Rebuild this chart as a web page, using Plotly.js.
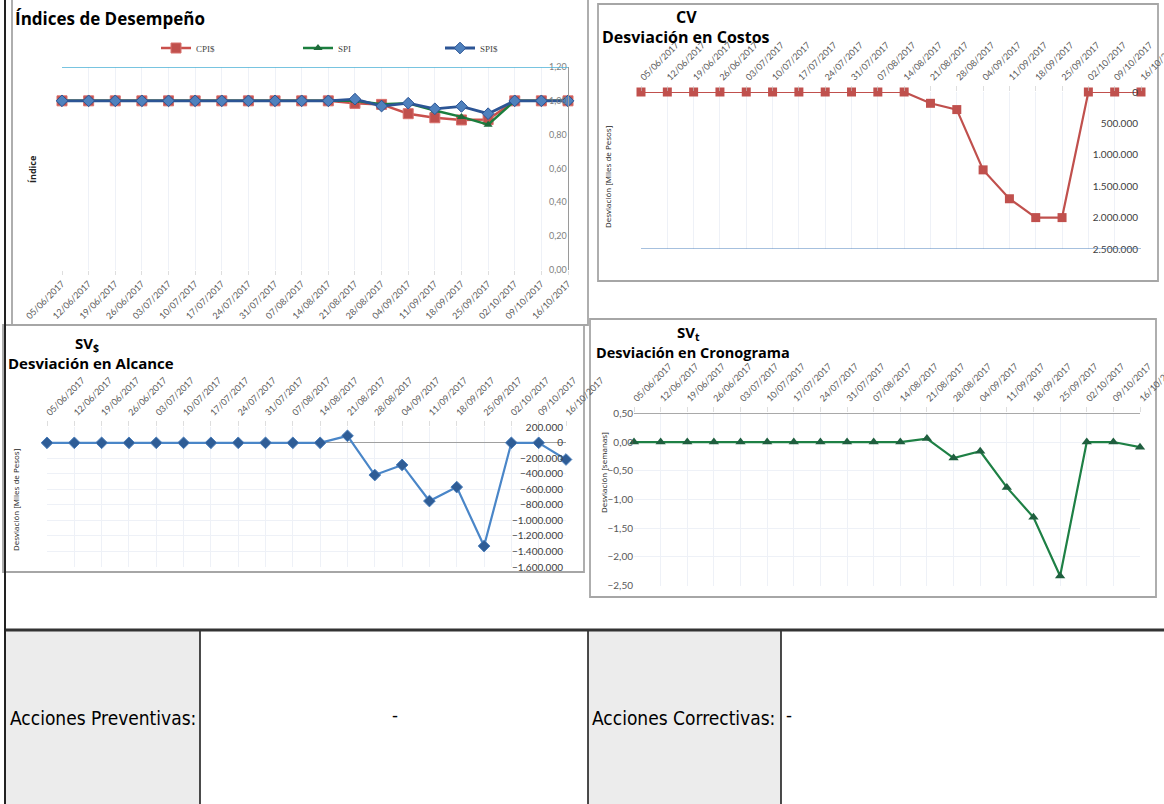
<!DOCTYPE html>
<html>
<head>
<meta charset="utf-8">
<script src="https://cdn.plot.ly/plotly-3.0.1.min.js"></script>
<style>
html,body{margin:0;padding:0;background:#fff;}
#chart{width:1164px;height:804px;}
</style>
</head>
<body>
<div id="chart"></div>
<script>
// ---------------- DATA ----------------
const dates = ['05/06/2017','12/06/2017','19/06/2017','26/06/2017','03/07/2017','10/07/2017','17/07/2017','24/07/2017','31/07/2017','07/08/2017','14/08/2017','21/08/2017','28/08/2017','04/09/2017','11/09/2017','18/09/2017','25/09/2017','02/10/2017','09/10/2017','16/10/2017'];
// Índices de Desempeño
const cpiPesos = [1,1,1,1,1,1,1,1,1,1,1,0.985,0.979,0.924,0.90,0.887,0.889,1,1,1];
const spi      = [1,1,1,1,1,1,1,1,1,1,1,1.0,0.98,0.986,0.943,0.905,0.859,1,1,1];
const spiPesos = [1,1,1,1,1,1,1,1,1,1,1,1.01,0.969,0.986,0.953,0.967,0.924,1,1,1];
// CV - Desviación en Costos (Miles de Pesos)
const cv  = [0,0,0,0,0,0,0,0,0,0,0,180000,280000,1240000,1700000,2000000,2000000,0,0,0];
// SV$ - Desviación en Alcance (Miles de Pesos)
const svPesos = [0,0,0,0,0,0,0,0,0,0,0,90000,-415000,-285000,-750000,-570000,-1330000,0,0,-215000];
// SVt - Desviación en Cronograma (semanas)
const svT = [0,0,0,0,0,0,0,0,0,0,0,0.06,-0.28,-0.16,-0.79,-1.31,-2.33,0,0,-0.09];

// -------------- HELPERS ---------------
const W = 1164, H = 804;
const X = p => p / W;
const Y = p => 1 - p / H;

const tickFont = {family:'Lato, Liberation Sans, sans-serif', size:9, color:'#595959'};
const tfam = 'Open Sans, Noto Sans, sans-serif';
const gridC = '#eef1f7';

function catAxis(domain, anchor, side){
  return {
    domain: domain, anchor: anchor, side: side, type:'category',
    range:[0,19], tickangle:-45, tickfont: tickFont, ticklabeloverflow:'allow',
    showgrid:true, gridcolor:gridC, gridwidth:1,
    ticks:'outside', ticklen:5, tickcolor:'rgba(200,200,200,0.6)',
    showline:false, zeroline:false, fixedrange:true
  };
}

const traces = [
  {x:dates, y:cpiPesos, name:'CPI$', type:'scatter', mode:'lines+markers', xaxis:'x', yaxis:'y', cliponaxis:false,
   line:{color:'#c9504c', width:2.5}, marker:{symbol:'square', size:10, color:'#c0504d', line:{color:'#d8706d', width:1}}},
  {x:dates, y:spi, name:'SPI', type:'scatter', mode:'lines+markers', xaxis:'x', yaxis:'y', cliponaxis:false,
   line:{color:'#1b7e3e', width:2.5}, marker:{symbol:'triangle-up', size:8, color:'#1d6b3a'}},
  {x:dates, y:spiPesos, name:'SPI$', type:'scatter', mode:'lines+markers', xaxis:'x', yaxis:'y', cliponaxis:false,
   line:{color:'#2c5595', width:2.8}, marker:{symbol:'diamond', size:9, color:'#4f81bd', line:{color:'#2c5595', width:1}}},
  {x:dates, y:cv, name:'CV', showlegend:false, type:'scatter', mode:'lines+markers', xaxis:'x2', yaxis:'y2', cliponaxis:false,
   line:{color:'#c0504d', width:2.2}, marker:{symbol:'square', size:9, color:'#c0504d'}},
  {x:dates, y:svPesos, name:'SV$', showlegend:false, type:'scatter', mode:'lines+markers', xaxis:'x3', yaxis:'y3', cliponaxis:false,
   line:{color:'#4a86c8', width:2.2}, marker:{symbol:'diamond', size:9, color:'#2f5d96', line:{color:'#4a7ebb', width:1}}},
  {x:dates, y:svT, name:'SVt', showlegend:false, type:'scatter', mode:'lines+markers', xaxis:'x4', yaxis:'y4', cliponaxis:false,
   line:{color:'#1e8045', width:2.2}, marker:{symbol:'triangle-up', size:9, color:'#1f5f3f'}}
];

const yTickFont = {family:'Lato, Liberation Sans, sans-serif', size:10, color:'#404040'};

const layout = {
  width:W, height:H, autosize:false,
  margin:{l:0,r:0,t:0,b:0},
  paper_bgcolor:'#fff', plot_bgcolor:'rgba(0,0,0,0)',
  separators:',.',
  font:{family:'Liberation Sans, sans-serif'},
  showlegend:true,
  legend:{orientation:'h', x:X(156), y:Y(48), xanchor:'left', yanchor:'middle',
          font:{family:'Liberation Serif, serif', size:9, color:'#444'},
          entrywidth:97, entrywidthmode:'pixels', bgcolor:'rgba(0,0,0,0)', itemwidth:30},
  // Chart 1
  xaxis: Object.assign(catAxis([X(62),X(568)],'y','bottom'), {ticklen:4}),
  yaxis: {domain:[Y(270),Y(67)], anchor:'x', side:'right', ticklabelposition:'inside', ticklabeloverflow:'allow',
          range:[0,1.2], dtick:0.2, tickformat:'.2f', showgrid:false, zeroline:false,
          showline:true, linecolor:'#9a9a9a', linewidth:1.2, ticks:'',
          tickfont:{family:'Lato, Liberation Sans, sans-serif', size:9, color:'#7f7f7f'}, fixedrange:true},
  // Chart 2
  xaxis2: catAxis([X(641),X(1141)],'y2','top'),
  yaxis2: {domain:[Y(249),Y(92)], anchor:'x2', side:'right', ticklabelposition:'inside', ticklabeloverflow:'allow',
           range:[2500000,0], dtick:500000, tickformat:',d', showgrid:false, zeroline:false,
           showline:false, ticks:'', tickfont:yTickFont, fixedrange:true},
  // Chart 3
  xaxis3: catAxis([X(47),X(566)],'y3','top'),
  yaxis3: {domain:[Y(567),Y(427.3)], anchor:'x3', side:'right', ticklabelposition:'inside', ticklabeloverflow:'allow',
           range:[-1600000,200000], dtick:200000, tickformat:',d', showgrid:true, gridcolor:gridC,
           zeroline:true, zerolinecolor:'#a0a0a0', zerolinewidth:1.2,
           showline:false, ticks:'', tickfont:yTickFont, fixedrange:true},
  // Chart 4
  xaxis4: catAxis([X(634),X(1140)],'y4','top'),
  yaxis4: {domain:[Y(585.7),Y(413.3)], anchor:'x4', side:'left', ticklabeloverflow:'allow',
           range:[-2.5,0.5], dtick:0.5, tickformat:'.2f', showgrid:true, gridcolor:gridC,
           zeroline:false, showline:false, ticks:'',
           tickfont:{family:'Lato, Liberation Sans, sans-serif', size:10, color:'#595959'}, fixedrange:true},
  shapes:[
    // table cells
    {type:'rect', xref:'paper', yref:'paper', x0:X(6), x1:X(200), y0:Y(804), y1:Y(631), fillcolor:'#ececec', line:{width:0}, layer:'below'},
    {type:'rect', xref:'paper', yref:'paper', x0:X(588), x1:X(781), y0:Y(804), y1:Y(631), fillcolor:'#ececec', line:{width:0}, layer:'below'},
    {type:'line', xref:'paper', yref:'paper', x0:X(200), x1:X(200), y0:Y(804), y1:Y(631), line:{color:'#111', width:1.5}},
    {type:'line', xref:'paper', yref:'paper', x0:X(588), x1:X(588), y0:Y(804), y1:Y(631), line:{color:'#111', width:1.5}},
    {type:'line', xref:'paper', yref:'paper', x0:X(781), x1:X(781), y0:Y(804), y1:Y(631), line:{color:'#111', width:1.5}},
    {type:'line', xref:'paper', yref:'paper', x0:X(5), x1:X(1164), y0:Y(630), y1:Y(630), line:{color:'#333', width:3}},
    // outer frame left
    {type:'line', xref:'paper', yref:'paper', x0:X(5), x1:X(5), y0:Y(804), y1:Y(0), line:{color:'#222', width:2}},
    // panel borders
    {type:'rect', xref:'paper', yref:'paper', x0:X(12), x1:X(588), y0:Y(325), y1:Y(-2), line:{color:'#a6a6a6', width:1.8}, fillcolor:'rgba(0,0,0,0)', layer:'below'},
    {type:'rect', xref:'paper', yref:'paper', x0:X(598), x1:X(1158), y0:Y(281), y1:Y(4), line:{color:'#a6a6a6', width:1.8}, fillcolor:'rgba(0,0,0,0)', layer:'below'},
    {type:'rect', xref:'paper', yref:'paper', x0:X(3), x1:X(584), y0:Y(572), y1:Y(325), line:{color:'#a6a6a6', width:1.8}, fillcolor:'rgba(0,0,0,0)', layer:'below'},
    {type:'rect', xref:'paper', yref:'paper', x0:X(590), x1:X(1156), y0:Y(597), y1:Y(319), line:{color:'#a6a6a6', width:1.8}, fillcolor:'rgba(0,0,0,0)', layer:'below'},
    // chart 1 top line at 1.20
    {type:'line', xref:'x domain', yref:'y', x0:0, x1:1, y0:1.2, y1:1.2, line:{color:'#4bb0d6', width:1.3}},
    // chart 2 bottom axis line
    {type:'line', xref:'x2 domain', yref:'y2', x0:0, x1:1, y0:2500000, y1:2500000, line:{color:'#4f81bd', width:1.2}},
    // chart 4 top axis line
    {type:'line', xref:'x4 domain', yref:'y4', x0:0, x1:1, y0:0.5, y1:0.5, line:{color:'#8c8c8c', width:1.5}}
  ],
  annotations:[
    {xref:'paper', yref:'paper', x:X(13), y:Y(19), xanchor:'left', yanchor:'middle', showarrow:false,
     text:'<b>Índices de Desempeño</b>', font:{family:tfam, size:17, color:'#000'}},
    {xref:'paper', yref:'paper', x:X(686), y:Y(17), xanchor:'center', yanchor:'middle', showarrow:false,
     text:'<b>CV</b>', font:{family:tfam, size:16, color:'#000'}},
    {xref:'paper', yref:'paper', x:X(600), y:Y(37), xanchor:'left', yanchor:'middle', showarrow:false,
     text:'<b>Desviación en Costos</b>', font:{family:tfam, size:16, color:'#000'}},
    {xref:'paper', yref:'paper', x:X(87), y:Y(344), xanchor:'center', yanchor:'middle', showarrow:false,
     text:'<b>SV<sub>$</sub></b>', font:{family:tfam, size:15, color:'#000'}},
    {xref:'paper', yref:'paper', x:X(6), y:Y(363), xanchor:'left', yanchor:'middle', showarrow:false,
     text:'<b>Desviación en Alcance</b>', font:{family:tfam, size:15, color:'#000'}},
    {xref:'paper', yref:'paper', x:X(688), y:Y(333), xanchor:'center', yanchor:'middle', showarrow:false,
     text:'<b>SV<sub>t</sub></b>', font:{family:tfam, size:15, color:'#000'}},
    {xref:'paper', yref:'paper', x:X(594), y:Y(352), xanchor:'left', yanchor:'middle', showarrow:false,
     text:'<b>Desviación en Cronograma</b>', font:{family:tfam, size:14.5, color:'#000'}},
    // axis titles
    {xref:'paper', yref:'paper', x:X(33), y:Y(170), xanchor:'center', yanchor:'middle', showarrow:false, textangle:-90,
     text:'<b>Índice</b>', font:{family:tfam, size:9, color:'#222'}},
    {xref:'paper', yref:'paper', x:X(607), y:Y(177), xanchor:'center', yanchor:'middle', showarrow:false, textangle:-90,
     text:'Desviación [Miles de Pesos]', font:{family:tfam, size:8, color:'#222'}},
    {xref:'paper', yref:'paper', x:X(16), y:Y(500), xanchor:'center', yanchor:'middle', showarrow:false, textangle:-90,
     text:'Desviación [Miles de Pesos]', font:{family:tfam, size:8, color:'#222'}},
    {xref:'paper', yref:'paper', x:X(603), y:Y(473), xanchor:'center', yanchor:'middle', showarrow:false, textangle:-90,
     text:'Desviación [semanas]', font:{family:tfam, size:8, color:'#222'}},
    // table text
    {xref:'paper', yref:'paper', x:X(8), y:Y(718), xanchor:'left', yanchor:'middle', showarrow:false,
     text:'Acciones Preventivas:', font:{family:'Liberation Sans Narrow, DejaVu Sans Condensed, Liberation Sans, sans-serif', size:19, color:'#000'}},
    {xref:'paper', yref:'paper', x:X(395), y:Y(716), xanchor:'center', yanchor:'middle', showarrow:false,
     text:'-', font:{family:'Liberation Sans, sans-serif', size:18, color:'#000'}},
    {xref:'paper', yref:'paper', x:X(590), y:Y(718), xanchor:'left', yanchor:'middle', showarrow:false,
     text:'Acciones Correctivas:', font:{family:'Liberation Sans Narrow, DejaVu Sans Condensed, Liberation Sans, sans-serif', size:19, color:'#000'}},
    {xref:'paper', yref:'paper', x:X(784), y:Y(716), xanchor:'left', yanchor:'middle', showarrow:false,
     text:'-', font:{family:'Liberation Sans, sans-serif', size:18, color:'#000'}}
  ]
};

Plotly.newPlot('chart', traces, layout, {displayModeBar:false, staticPlot:true});
</script>
</body>
</html>
